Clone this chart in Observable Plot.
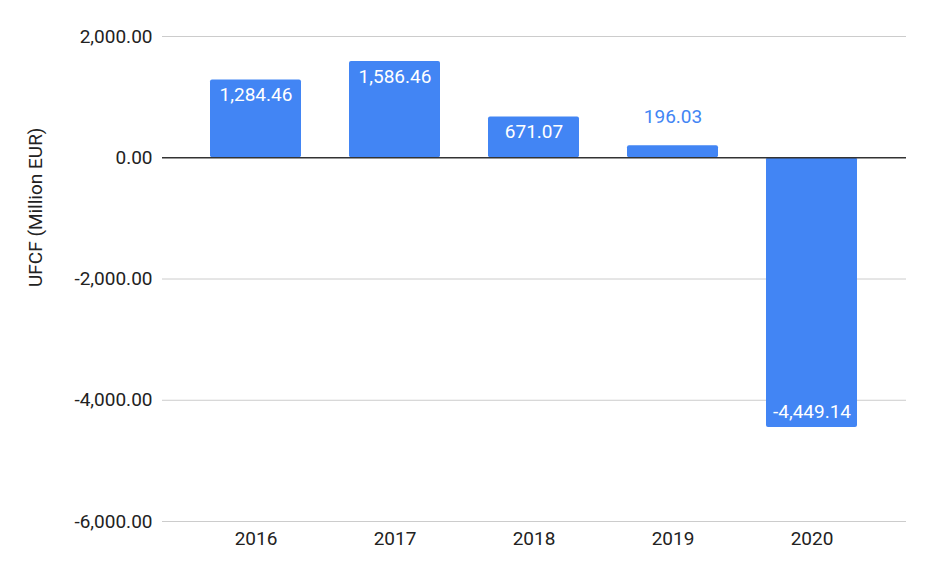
<!DOCTYPE html>
<html>
<head>
<meta charset="utf-8">
<script src="https://cdn.jsdelivr.net/npm/d3@7"></script>
<script src="https://cdn.jsdelivr.net/npm/@observablehq/plot@0.6"></script>
<style>
  html, body { margin: 0; padding: 0; background: #fff; }
  #chart { width: 934px; height: 576px; }
</style>
</head>
<body>
<div id="chart"></div>
<script>
const years = ["2016", "2017", "2018", "2019", "2020"];
const ufcf = [1284.46, 1586.46, 671.07, 196.03, -4449.14];
const yTicks = [-6000, -4000, -2000, 0, 2000];
const yLabel = "UFCF (Million EUR)";

const data = years.map((year, i) => ({year, value: ufcf[i]}));
const locale = d3.formatLocale({decimal: ".", thousands: ",", grouping: [3], currency: ["", ""], minus: "-"});
const fmt = locale.format(",.2f");
const blue = "#4285F4";

const inside = data.filter(d => d.value >= 500);
const outside = data.filter(d => d.value >= 0 && d.value < 500);
const negative = data.filter(d => d.value < 0);

const chart = Plot.plot({
  width: 934,
  height: 576,
  marginLeft: 162,
  marginRight: 28,
  marginTop: 36,
  marginBottom: 55,
  style: {fontFamily: "Roboto, sans-serif", fontSize: "19px", color: "#222", background: "#fff"},
  x: {domain: years, paddingInner: 0.345, paddingOuter: 0.345, align: 0.5, label: null},
  y: {domain: [-6000, 2000], ticks: yTicks, label: null},
  marks: [
    Plot.ruleY(yTicks.filter(t => t !== 0), {stroke: "#cccccc", strokeWidth: 1}),
    Plot.barY(data, {x: "year", y: "value", fill: blue, rx: 2}),
    Plot.ruleY([0], {stroke: "#333333", strokeWidth: 1.3}),
    Plot.axisY(yTicks, {tickSize: 0, tickPadding: 10, tickFormat: fmt, fill: "#222", fontSize: 19, label: null}),
    Plot.axisX({tickSize: 0, tickPadding: 10, fill: "#222", fontSize: 19, label: null}),
    Plot.text([yLabel], {frameAnchor: "left", rotate: -90, dx: -127, dy: 8, fill: "#222", fontSize: 19}),
    Plot.text(inside, {x: "year", y: "value", text: d => fmt(d.value), dy: 15, fill: "#ffffff", fontSize: 19}),
    Plot.text(outside, {x: "year", y: "value", text: d => fmt(d.value), dy: -29, fill: blue, fontSize: 19}),
    Plot.text(negative, {x: "year", y: "value", text: d => fmt(d.value), dy: -16, fill: "#ffffff", fontSize: 19})
  ]
});
document.getElementById("chart").appendChild(chart);
</script>
</body>
</html>
